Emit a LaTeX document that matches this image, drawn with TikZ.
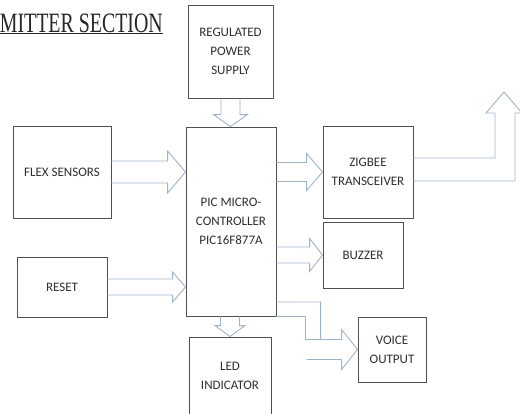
\documentclass[tikz,border=0pt]{standalone}
\usepackage{fontspec}
\usepackage{graphicx}
\setmainfont{Carlito}
\newfontfamily\titlefont{Liberation Serif}
\usepackage{tikz}
\usetikzlibrary{calc}
\definecolor{edge}{HTML}{505050}
\definecolor{flowc}{HTML}{9FB3C8}
\definecolor{ink}{HTML}{2E2E2E}
\tikzset{
  blk/.style={draw=edge, line width=0.9pt, rectangle, inner sep=0pt, align=center,
    text=ink, font=\fontsize{13}{19}\selectfont},
  flow/.style={draw=flowc, line width=0.9pt, line join=miter},
  ttl/.style={text=black!85, inner sep=0pt}
}
% hollow block arrows: tail, tip, half shaft, half head, head length
\newcommand{\ArrowRight}[5]{%
  \draw[flow] ($(#1)+(0,-#3)$) -- ($(#2)+(-#5,-#3)$) -- ($(#2)+(-#5,-#4)$) -- (#2)
    -- ($(#2)+(-#5,#4)$) -- ($(#2)+(-#5,#3)$) -- ($(#1)+(0,#3)$);
}
\newcommand{\ArrowDown}[5]{%
  \draw[flow] ($(#1)+(-#3,0)$) -- ($(#2)+(-#3,-#5)$) -- ($(#2)+(-#4,-#5)$) -- (#2)
    -- ($(#2)+(#4,-#5)$) -- ($(#2)+(#3,-#5)$) -- ($(#1)+(#3,0)$);
}

\begin{document}
\begin{tikzpicture}[x=1pt, y=-1pt]
  \useasboundingbox (0,0) rectangle (520,413);

  % title
  \node[ttl, anchor=base east] (title) at (163,32)
    {\scalebox{0.71}[1]{\titlefont\fontsize{28}{30}\selectfont\underline{MITTER SECTION}}};

  % blocks
  \node[blk, minimum width=85, minimum height=93] (pwr) at (230.5,51.5) {REGULATED\\POWER\\SUPPLY};
  \node[blk, minimum width=90, minimum height=189] (pic) at (231,221.5) {PIC MICRO-\\CONTROLLER\\PIC16F877A};
  \node[blk, minimum width=98, minimum height=92] (flex) at (62,172) {FLEX SENSORS};
  \node[blk, minimum width=90, minimum height=60] (reset) at (62,287) {RESET};
  \node[blk, minimum width=90, minimum height=92] (zig) at (368,172) {ZIGBEE\\TRANSCEIVER};
  \node[blk, minimum width=80, minimum height=66] (buz) at (363,255) {BUZZER};
  \node[blk, minimum width=68, minimum height=65] (voice) at (392,349.5) {VOICE\\OUTPUT};
  \node[blk, minimum width=82, minimum height=78] (led) at (230,376) {LED\\INDICATOR};

  % arrow ends
  \coordinate (flexTip) at (flex.east -| pic.west);
  \coordinate (resetTip) at (reset.east -| pic.west);
  \coordinate (zigTail) at (pic.east |- zig.west);
  \coordinate (buzTail) at (pic.east |- buz.west);
  \coordinate (pwrTip) at (pwr.south |- pic.north);
  \coordinate (ledTail) at (led.north |- pic.south);
  \coordinate (ztip) at (504,92);
  \coordinate (vtip) at (voice.west);
  \coordinate (vA) at ($(pic.east)+(0,80.5)$);

  \ArrowRight{flex.east}{flexTip}{11}{21}{18}
  \ArrowRight{reset.east}{resetTip}{8}{15}{13}
  \ArrowRight{zigTail}{zig.west}{9.5}{18.5}{16}
  \ArrowRight{buzTail}{buz.west}{8}{16.5}{13}
  \ArrowDown{pwr.south}{pwrTip}{9.5}{17}{12}
  \ArrowDown{ledTail}{led.north}{9.5}{15}{11}

  % zigbee out
  \draw[flow] ($(zig.east)+(0,-14)$) -- ($(ztip |- zig.east)+(-9,-14)$) -- ($(ztip)+(-9,21)$)
    -- ($(ztip)+(-18,21)$) -- (ztip) -- ($(ztip)+(18,21)$) -- ($(ztip)+(11,21)$)
    -- ($(ztip |- zig.east)+(11,9)$) -- ($(zig.east)+(0,9)$);

  % voice out
  \draw[flow] (vA) -| ($(vtip)+(-37,-10)$) -- ($(vtip)+(-16,-10)$) -- ($(vtip)+(-16,-20)$)
    -- (vtip) -- ($(vtip)+(-16,20)$) -- ($(vtip)+(-16,10)$) -- ($(vtip)+(-51,10)$);
  \draw[flow] (pic.south east) -| ($(vtip)+(-52,-10)$) -- ($(vtip)+(-37,-10)$);
\end{tikzpicture}
\end{document}
